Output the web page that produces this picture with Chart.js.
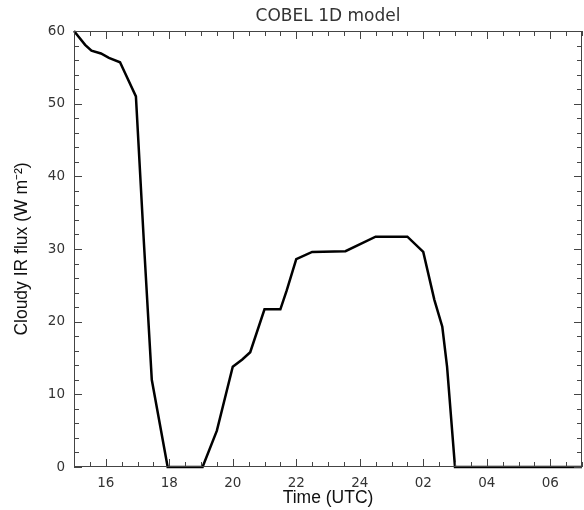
<!DOCTYPE html>
<html>
<head>
<meta charset="utf-8">
<script src="https://cdn.jsdelivr.net/npm/chart.js@4"></script>
<style>
  html, body { margin: 0; padding: 0; background: #fff; }
</style>
</head>
<body>
<canvas id="chart" width="584" height="510"></canvas>
<script>
// Time in hours since 00 UTC of the first day (24+ = next day)
const hours = [15.0, 15.35, 15.55, 15.85, 16.1, 16.45, 16.6, 16.95, 17.2, 17.45,
               17.95, 19.05, 19.5, 20.0, 20.3, 20.55, 21.0, 21.5, 21.7, 22.0,
               22.5, 23.55, 24.5, 25.5, 26.0, 26.35, 26.6, 26.75, 27.0, 31.0];
const fluxValues = [60, 58.1, 57.3, 56.9, 56.3, 55.7, 54.3, 51, 31, 12,
                    0, 0, 5, 13.8, 14.8, 15.8, 21.7, 21.7, 24.3, 28.6,
                    29.6, 29.7, 31.7, 31.7, 29.6, 23, 19.3, 13.8, 0, 0];

const xTickValues = [16, 18, 20, 22, 24, 26, 28, 30];
const yTickValues = [0, 10, 20, 30, 40, 50, 60];
const xRange = [15, 31];
const yRange = [0, 60];
const xMinorStep = 0.5;
const yMinorStep = 2;

const axisColor = '#444';

/**
 * Inward ticks on all four sides plus the frame
 */
const frameTicks = {
    id: 'frameTicks',
    afterDatasetsDraw(chart) {
        const { ctx, chartArea: a, scales: { x, y } } = chart;
        ctx.save();
        ctx.strokeStyle = axisColor;
        ctx.lineWidth = 1;
        ctx.strokeRect(a.left + 0.5, a.top + 0.5, a.width - 1, a.height - 1);
        ctx.beginPath();
        for (let v = xRange[0]; v <= xRange[1] + 1e-6; v += xMinorStep) {
            const px = Math.round(x.getPixelForValue(v)) + 0.5;
            const len = (v % 2 === 0) ? 8 : 5;
            ctx.moveTo(px, a.bottom); ctx.lineTo(px, a.bottom - len);
            ctx.moveTo(px, a.top); ctx.lineTo(px, a.top + len);
        }
        for (let v = yRange[0]; v <= yRange[1] + 1e-6; v += yMinorStep) {
            const py = Math.round(y.getPixelForValue(v)) + 0.5;
            const len = (v % 10 === 0) ? 8 : 5;
            ctx.moveTo(a.left, py); ctx.lineTo(a.left + len, py);
            ctx.moveTo(a.right, py); ctx.lineTo(a.right - len, py);
        }
        ctx.stroke();
        ctx.restore();
    }
};

new Chart(document.getElementById('chart'), {
    type: 'line',
    data: {
        datasets: [{
            data: hours.map((h, i) => ({ x: h, y: fluxValues[i] })),
            borderColor: '#000',
            borderWidth: 2.5,
            pointRadius: 0,
            tension: 0,
            fill: false,
            clip: 4
        }]
    },
    options: {
        responsive: false,
        animation: false,
        layout: { padding: { right: 2 } },
        plugins: {
            legend: { display: false },
            tooltip: { enabled: false },
            title: {
                display: true,
                fullSize: false,
                text: 'COBEL 1D model',
                color: '#333',
                font: { family: 'DejaVu Sans', size: 17, weight: 'normal', lineHeight: 1 },
                padding: { top: 8, bottom: 6 }
            }
        },
        scales: {
            x: {
                type: 'linear',
                min: xRange[0],
                max: xRange[1],
                afterBuildTicks: s => { s.ticks = xTickValues.map(v => ({ value: v })); },
                afterFit: s => { s.height = 43; },
                grid: { display: false, drawTicks: false },
                border: { display: false },
                ticks: {
                    color: '#333',
                    font: { family: 'DejaVu Sans', size: 13.5 },
                    padding: 8,
                    maxRotation: 0,
                    callback: v => String(v > 24 ? v - 24 : v).padStart(2, '0')
                },
                title: {
                    display: true,
                    text: 'Time (UTC)',
                    color: '#111',
                    font: { family: 'Liberation Sans', size: 17.5 },
                    padding: { top: 0, bottom: 1 }
                }
            },
            y: {
                min: yRange[0],
                max: yRange[1],
                afterBuildTicks: s => { s.ticks = yTickValues.map(v => ({ value: v })); },
                afterFit: s => { s.width = 74; },
                grid: { display: false, drawTicks: false },
                border: { display: false },
                ticks: {
                    color: '#333',
                    font: { family: 'DejaVu Sans', size: 13.5 },
                    padding: 9
                },
                title: {
                    display: true,
                    text: 'Cloudy IR flux (W m\u207B\u00B2)',
                    color: '#111',
                    font: { family: 'Liberation Sans', size: 17.5 },
                    padding: { top: 12, bottom: 0 }
                }
            }
        }
    },
    plugins: [frameTicks]
});
</script>
</body>
</html>
